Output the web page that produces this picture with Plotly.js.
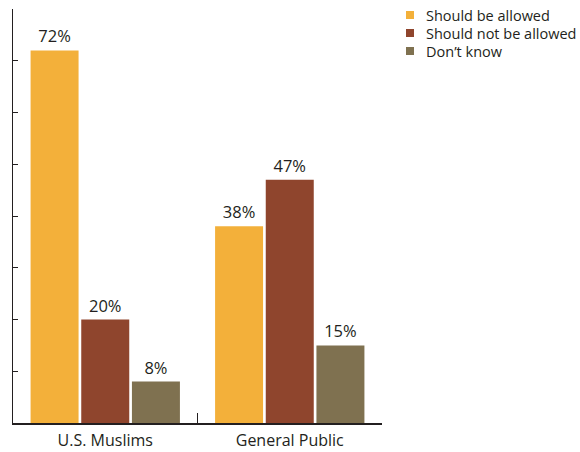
<!DOCTYPE html>
<html>
<head>
<meta charset="utf-8">
<script src="https://cdn.plot.ly/plotly-3.0.1.min.js"></script>
<style>html,body{margin:0;padding:0;background:#fff;}#chart{width:580px;height:452px;}</style>
</head>
<body>
<div id="chart"></div>
<script>
const categories = ["U.S. Muslims", "General Public"];
const seriesNames = ["Should be allowed", "Should not be allowed", "Don\u2019t know"];
const shouldBeAllowed = [72, 38];
const shouldNotBeAllowed = [20, 47];
const dontKnow = [8, 15];
const seriesColors = ["#F3B03A", "#8F452D", "#7F7150"];

const allValues = [shouldBeAllowed, shouldNotBeAllowed, dontKnow];
const textColor = "#231F20";
const fontFamily = "'Open Sans', 'Noto Sans', sans-serif";

const traces = allValues.map((vals, i) => ({
  type: "bar",
  name: seriesNames[i],
  x: categories,
  y: vals,
  marker: {color: seriesColors[i], line: {width: 0}},
  text: vals.map(v => v + "%"),
  textposition: "outside",
  constraintext: "none",
  textfont: {size: 16.5, color: textColor, family: fontFamily},
  cliponaxis: false,
  hoverinfo: "skip"
}));

const layout = {
  width: 580,
  height: 452,
  margin: {l: 13, r: 198, t: 9, b: 29, pad: 0, autoexpand: false},
  paper_bgcolor: "#ffffff",
  plot_bgcolor: "#ffffff",
  font: {family: fontFamily, color: textColor},
  barmode: "group",
  bargap: 0.176,
  bargroupgap: 0.053,
  showlegend: true,
  legend: {
    xref: "container", yref: "container",
    x: 0.6655, xanchor: "left",
    y: 1.0, yanchor: "top",
    font: {size: 14.5, color: textColor, family: fontFamily},
    bgcolor: "rgba(0,0,0,0)",
    traceorder: "normal",
    tracegroupgap: 0,
    itemclick: false
  },
  xaxis: {
    type: "category",
    showline: true, linecolor: "#231F20", linewidth: 1.5,
    ticks: "inside", tickson: "boundaries", ticklen: 10, tickcolor: "#231F20", tickwidth: 1,
    tickfont: {size: 16, color: textColor, family: fontFamily},
    ticklabelstandoff: 2,
    showgrid: false, zeroline: false,
    fixedrange: true
  },
  yaxis: {
    range: [0, 80],
    showline: true, linecolor: "#231F20", linewidth: 1.5,
    ticks: "inside", ticklen: 5, dtick: 10, tick0: 0, tickcolor: "#231F20", tickwidth: 1,
    showticklabels: false,
    showgrid: false, zeroline: false,
    fixedrange: true
  }
};

Plotly.newPlot("chart", traces, layout, {staticPlot: true, displayModeBar: false}).then(() => {
  document.querySelectorAll(".legendpoints path").forEach(p => {
    p.setAttribute("d", "M8,4H0V-4H8Z");
  });
  const items = document.querySelectorAll(".legend .traces");
  items.forEach((g, i) => {
    g.setAttribute("transform", "translate(0," + (15 + i * 18) + ")");
  });
});
</script>
</body>
</html>
